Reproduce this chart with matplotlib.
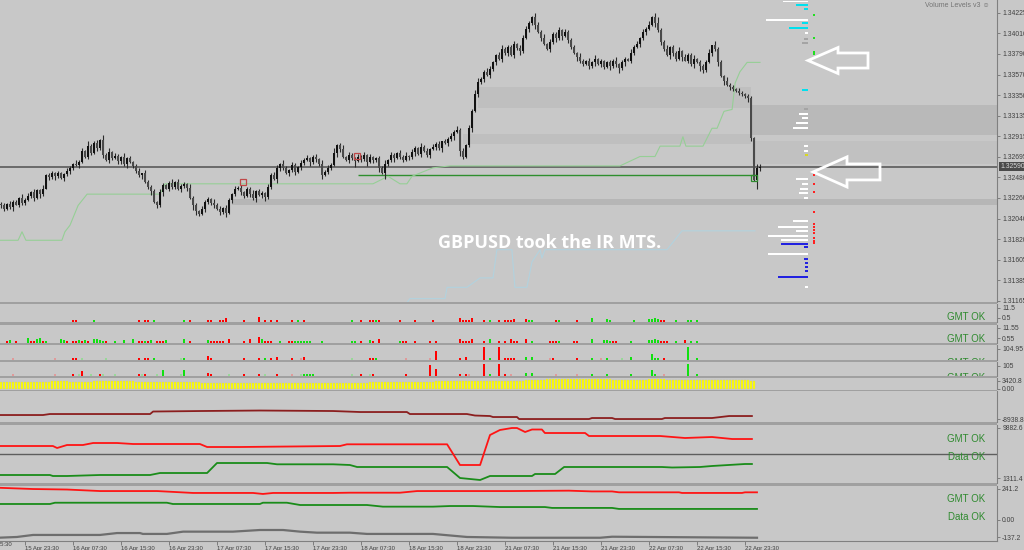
import numpy as np
import matplotlib
matplotlib.use('Agg')
import matplotlib.pyplot as plt
from matplotlib.patches import Polygon
from matplotlib.transforms import blended_transform_factory

plt.rcParams['font.family'] = ['Liberation Sans', 'DejaVu Sans']

W, H = 1024, 550
BG = '#c8c8c8'
SEP = '#a0a0a0'
XLIM = (-1 / 3, 332)
LBL = 4.9      # axis label size

# ---- main chart: GBPUSD M30 closes, in pips above 1.3000 ----
close_pips = [
    218, 214, 220, 216, 222, 219, 226, 221, 224, 228, 232, 226, 234, 230, 236,
    250, 248, 253, 249, 252, 247, 251, 255, 258, 262, 261, 264,
    276, 270, 281, 274, 284, 279, 288, 272, 266, 275, 268, 271, 265,
    270, 262, 268, 264, 260, 255, 250, 252, 243, 238, 233, 222, 218,
    232, 240, 236, 242, 238, 243, 235, 239, 241, 237, 226, 218, 212, 209,
    214, 222, 225, 221, 219, 214, 211, 215, 210, 224, 230, 235, 237,
    232, 228, 236, 230, 226, 233, 229, 231, 227, 238, 250, 246, 258, 262,
    258, 252, 256, 261, 254, 259, 263, 266, 268, 264, 270, 267,
    262, 250, 254, 258, 261, 274, 282, 278, 270, 266, 272, 268,
    265, 270, 267, 272, 264, 269, 266, 268, 258, 252, 262,
    266, 272, 268, 274, 270, 266, 271, 269, 275, 279, 273, 280, 276, 272, 278,
    280, 283, 279, 286, 284, 289, 292, 296, 298, 276, 270, 282,
    300, 318, 336, 349, 352, 360, 357, 363, 370, 378, 374, 384, 380, 386,
    378, 390, 385, 382, 396, 405, 412, 418, 410, 402, 396, 390, 384,
    392, 400, 396, 404, 398, 402, 394, 386, 380, 376, 372,
    368, 372, 366, 370, 374, 368, 371, 365, 370, 366, 372, 368, 364, 370, 374,
    372, 380, 386, 390, 396, 402, 406, 410, 418, 412, 404,
    392, 384, 378, 386, 380, 374, 382, 376, 372, 378, 368, 374, 370,
    366, 362, 370, 380, 388, 384, 370, 356, 350, 346,
    344, 342, 340, 338, 336, 334, 332, 290, 245, 258, 259,
]
first_open = 220
up_wick = ("2313221423" "1322413213" "2132142315" "2341524132" "1423123142"
           "2313212413" "2214231322" "1423132142" "3122413213" "2431421321"
           "3241231423" "2512413213" "2314213241" "3213241321" "4231324132"
           "3242313254" "3243213423" "2314342153" "2413224132" "2314213241"
           "3213241321" "4231324156" "3241324132" "2413234152" "3142213212"
           "2143")
lo_wick = ("3212413221" "2314213242" "1324213123" "2132413213" "3241232413"
           "4132413221" "3241542132" "2413241321" "3213241342" "2143213241"
           "3214232413" "2143213261" "3241324162" "2413213241" "3124132413"
           "2415322413" "2314231423" "1324213241" "3213242413" "2143213241"
           "3214235241" "3214232142" "3214321413" "2415321324" "2413213224"
           "3193")

main_ticks = [1.34225, 1.34010, 1.33790, 1.33570, 1.33350, 1.33135, 1.32915,
              1.32695, 1.32480, 1.32260, 1.32040, 1.31820, 1.31605, 1.31385, 1.31165]
current_price = 1.32590

# zones (bar index from/to, pips low/high, colour)
zone_x0 = [159, 154, 250.3, 250.3, 77]
zone_x1 = [250, 250, 332, 332, 332]
zone_lo = [321.6, 283.3, 292.9, 262.1, 218.5]
zone_hi = [343.9, 294.0, 324.7, 286.5, 224.9]
zone_col = ['#bfbfbf', '#bfbfbf', '#b9b9b9', '#c1c1c1', '#b6b6b6']

# light green stepped level
lg_idx = [-1, 5.7, 7, 8.3, 20.3, 21.3, 23, 25.7, 28.7, 53, 54.7, 124, 129, 133, 135.3, 137,
          144, 149.7, 206.3, 213, 218, 219.7, 226.3, 227.3, 228.3, 234, 237, 238.7, 241,
          243.7, 244.7, 246.3, 248.7, 253]
lg_pips = [181, 181, 190, 181, 181, 190, 197, 218, 230, 230, 241, 241, 249, 241, 241, 249,
           258, 260, 260, 270, 270, 281, 281, 291, 281, 281, 300, 300, 318,
           320, 348, 360, 370, 370]
# faint cyan level
cy_idx = [134.7, 136.3, 148, 148.7, 155.3, 159.7, 164, 165.3, 170.3, 171.3, 175.3, 177,
          179.7, 180.3, 181.3, 222, 227, 251.3]
cy_pips = [112, 119, 119, 131, 131, 141, 141, 171, 171, 131, 131, 158,
           171, 162, 171, 171, 191, 191]
# green level line
green_lvl_pips = 250.4
green_lvl_x = (119, 252)

# signal boxes
sig_idx = [80.7, 118.7, 251]
sig_pips = [243, 270.5, 247]
sig_col = ['#c04848', '#c04848', '#2e8b2e']

# volume levels profile (pips, length in bars, colour)
vp_pips = [434.5, 431, 426.7, 415, 411.9, 406.5, 401.2, 394.9, 390.6, 340.7, 320.5, 315.2,
           310.9, 305.6, 300.3, 281.2, 275.9, 271.6, 246.1, 240.8, 235.5, 231.2, 225.9,
           201.5, 195.1, 190.9, 185.5, 181.3, 177.0, 173.9, 166.4, 161.1, 156.9, 152.6,
           148.4, 142.0, 131.4]
vp_len = [8.3, 4, 1.3, 14, 2, 6.3, 1, 1.3, 2, 2, 1.3, 3,
          2, 4, 5, 1.3, 1.3, 1, 4, 2, 2.7, 3, 1.3,
          5, 10, 4, 13.3, 9, 9, 1.3, 13.3, 1.3, 1, 1,
          1, 10, 1]
vp_col = ['w', 'c', 'c', 'w', 'c', 'c', 'w', 'k', 'k', 'c', 'k', 'w',
          'w', 'w', 'w', 'w', 'w', 'y', 'w', 'w', 'w', 'w', 'w',
          'w', 'w', 'w', 'w', 'w', 'b', 'b', 'w', 'b', 'b', 'b',
          'b', 'b', 'w']
vp_anchor = 269
dot_pips = [420.4, 395.9, 381.1, 378.9, 250.4, 240.8, 232.3, 211.1, 198.3, 195.1,
            191.9, 188.7, 183.4, 180.2, 178.1]
dot_col = ['g', 'g', 'g', 'g', 'r', 'r', 'r', 'r', 'r', 'r', 'r', 'r', 'r', 'r', 'r']
dot_idx = 271

# outline arrows: tip, head start, tail (bar idx) and centre / half sizes (pips)
arr_tip = [269, 270.7]
arr_head = [279, 282]
arr_tail = [289, 293]
arr_mid = [372, 253.6]
arr_head_half = [13.8, 16]
arr_shaft_half = [8, 8.5]

# ---- histogram sub-windows (bar idx, value, colour) ----
p2 = [(24, 2, 'r'), (25, 2, 'r'), (31, 2, 'g'), (46, 2, 'r'), (48, 2, 'r'), (49, 2, 'r'),
      (51, 2, 'g'), (61, 2, 'g'), (63, 2, 'r'), (69, 2, 'r'), (70, 2, 'r'), (73, 2, 'r'),
      (74, 2, 'r'), (75, 4, 'r'), (81, 2, 'r'), (86, 5, 'r'), (88, 2, 'r'), (90, 2, 'r'),
      (92, 2, 'r'), (97, 2, 'r'), (99, 2, 'g'), (101, 2, 'r'), (117, 2, 'g'), (120, 2, 'r'),
      (123, 2, 'r'), (124, 2, 'r'), (125, 2, 'g'), (126, 2, 'r'), (133, 2, 'r'), (138, 2, 'r'),
      (144, 2, 'r'), (153, 4, 'r'), (154, 2, 'r'), (155, 2, 'r'), (156, 2, 'r'), (157, 4, 'r'),
      (161, 2, 'r'), (163, 2, 'g'), (166, 2, 'r'), (168, 2, 'r'), (169, 2, 'r'), (170, 2, 'r'),
      (171, 3, 'r'), (175, 3, 'r'), (176, 2, 'g'), (177, 2, 'g'), (185, 2, 'r'), (186, 2, 'g'),
      (192, 2, 'r'), (197, 4, 'g'), (202, 3, 'g'), (203, 2, 'g'), (211, 2, 'g'), (216, 3, 'g'),
      (217, 3, 'g'), (218, 4, 'g'), (219, 3, 'g'), (220, 2, 'r'), (221, 2, 'r'), (225, 2, 'g'),
      (229, 2, 'g'), (230, 2, 'g'), (232, 2, 'g')]
p3 = [(2, 2.2, 'r'), (3, 3.3, 'g'), (5, 2.2, 'r'), (9, 5.5, 'g'), (10, 2.2, 'r'), (11, 2.2, 'r'),
      (12, 4.4, 'g'), (13, 5.5, 'g'), (14, 2.2, 'r'), (15, 2.2, 'g'), (20, 4.4, 'g'), (21, 3.3, 'g'),
      (22, 2.2, 'r'), (24, 2.2, 'r'), (25, 2.2, 'r'), (26, 3.3, 'g'), (27, 2.2, 'r'), (28, 3.3, 'g'),
      (29, 2.2, 'r'), (31, 4.4, 'g'), (32, 4.4, 'g'), (33, 3.3, 'g'), (34, 2.2, 'g'), (35, 2.2, 'r'),
      (38, 2.2, 'g'), (41, 3.3, 'g'), (44, 4.4, 'g'), (46, 2.2, 'r'), (47, 2.2, 'r'), (48, 2.2, 'g'),
      (49, 2.2, 'r'), (50, 3.3, 'g'), (52, 2.2, 'r'), (53, 2.2, 'r'), (54, 2.2, 'r'), (55, 3.3, 'g'),
      (61, 4.4, 'g'), (63, 2.2, 'r'), (69, 3.3, 'g'), (70, 2.2, 'r'), (71, 2.2, 'r'), (72, 2.2, 'r'),
      (73, 2.2, 'r'), (74, 2.2, 'r'), (76, 4.4, 'r'), (81, 2.2, 'r'), (83, 4.4, 'r'), (86, 6.6, 'r'),
      (87, 4.4, 'g'), (88, 2.2, 'r'), (89, 2.2, 'r'), (90, 2.2, 'r'), (93, 2.2, 'g'), (96, 2.2, 'r'),
      (97, 2.2, 'r'), (98, 2.2, 'g'), (99, 2.2, 'g'), (100, 2.2, 'g'), (101, 2.2, 'g'), (102, 2.2, 'g'),
      (103, 2.2, 'g'), (107, 2.2, 'g'), (117, 2.2, 'g'), (118, 2.2, 'g'), (120, 2.2, 'r'),
      (123, 3.3, 'g'), (124, 2.2, 'r'), (126, 4.4, 'r'), (133, 2.2, 'g'), (134, 2.2, 'r'),
      (135, 2.2, 'r'), (138, 2.2, 'r'), (143, 2.2, 'r'), (145, 2.2, 'r'), (153, 4.4, 'r'),
      (154, 2.2, 'r'), (155, 2.2, 'r'), (156, 2.2, 'r'), (157, 4.4, 'r'), (161, 2.2, 'r'),
      (163, 4.4, 'g'), (166, 2.2, 'r'), (168, 2.2, 'r'), (170, 4.4, 'r'), (171, 2.2, 'r'),
      (172, 2.2, 'r'), (175, 4.4, 'r'), (177, 2.2, 'g'), (183, 2.2, 'r'), (184, 2.2, 'r'),
      (185, 2.2, 'r'), (186, 2.2, 'g'), (191, 2.2, 'r'), (192, 2.2, 'r'), (197, 4.4, 'g'),
      (201, 3.3, 'g'), (202, 3.3, 'g'), (203, 2.2, 'g'), (204, 2.2, 'r'), (205, 2.2, 'r'),
      (210, 2.2, 'g'), (216, 3.3, 'g'), (217, 3.3, 'g'), (218, 4.4, 'g'), (219, 3.3, 'g'),
      (220, 2.2, 'r'), (221, 2.2, 'r'), (222, 2.2, 'r'), (225, 2.2, 'g'), (228, 3.3, 'r'),
      (230, 2.2, 'g'), (232, 2.2, 'g')]
p4 = [(4, 19, 'p'), (18, 19, 'p'), (24, 19, 'r'), (25, 19, 'r'), (27, 19, 'l'), (35, 19, 'l'),
      (46, 19, 'r'), (48, 19, 'r'), (49, 19, 'r'), (51, 19, 'g'), (60, 19, 'l'), (61, 19, 'g'),
      (69, 37, 'r'), (70, 19, 'r'), (81, 19, 'r'), (86, 19, 'r'), (88, 19, 'g'), (90, 19, 'r'),
      (92, 28, 'r'), (97, 19, 'r'), (100, 19, 'p'), (101, 28, 'r'), (117, 19, 'l'), (123, 19, 'r'),
      (124, 19, 'r'), (125, 19, 'g'), (135, 19, 'p'), (143, 19, 'p'), (145, 84, 'r'), (153, 19, 'r'),
      (155, 28, 'r'), (161, 121, 'r'), (163, 19, 'g'), (166, 121, 'r'), (168, 19, 'r'),
      (169, 19, 'r'), (170, 19, 'r'), (171, 19, 'r'), (175, 28, 'g'), (177, 28, 'g'),
      (183, 19, 'p'), (184, 19, 'r'), (192, 19, 'r'), (197, 19, 'g'), (200, 19, 'p'),
      (202, 19, 'g'), (207, 19, 'l'), (210, 28, 'g'), (217, 56, 'g'), (218, 19, 'g'),
      (219, 19, 'g'), (221, 19, 'r'), (229, 121, 'g'), (232, 19, 'g')]
p5 = [(4, 20, 'p'), (18, 20, 'p'), (24, 20, 'r'), (26, 20, 'l'), (27, 50, 'r'), (30, 20, 'l'),
      (33, 20, 'r'), (34, 20, 'l'), (38, 20, 'l'), (46, 20, 'r'), (47, 20, 'l'), (48, 20, 'r'),
      (52, 20, 'l'), (54, 60, 'g'), (60, 20, 'l'), (61, 60, 'g'), (69, 30, 'r'), (70, 20, 'r'),
      (76, 20, 'l'), (81, 20, 'r'), (86, 20, 'r'), (88, 20, 'l'), (92, 20, 'r'), (97, 20, 'p'),
      (100, 20, 'l'), (101, 20, 'g'), (102, 20, 'g'), (103, 20, 'g'), (104, 20, 'g'), (117, 20, 'l'),
      (120, 20, 'r'), (123, 20, 'l'), (124, 20, 'r'), (135, 20, 'r'), (143, 110, 'r'),
      (145, 70, 'r'), (153, 20, 'r'), (155, 20, 'r'), (156, 20, 'p'), (161, 120, 'r'),
      (163, 20, 'g'), (166, 120, 'r'), (168, 20, 'r'), (170, 20, 'p'), (175, 30, 'g'),
      (177, 30, 'g'), (185, 20, 'p'), (192, 20, 'p'), (197, 20, 'g'), (202, 20, 'g'),
      (210, 20, 'g'), (217, 60, 'g'), (218, 20, 'g'), (221, 20, 'p'), (229, 120, 'g'),
      (232, 20, 'g')]
hist_colors = {'r': '#ff0000', 'g': '#10e010', 'p': '#e09a9a', 'l': '#98d898'}

# volume (plateaus: number of bars, value)
vol_runs = [17, 6, 8, 14, 9, 13, 56, 22, 26, 4, 7, 22, 12, 6, 12, 16, 2]
vol_vals = [3120, 3420, 3120, 3550, 2990, 2860, 2570, 2860, 3290, 3290, 3850, 4280,
            3850, 4400, 3980, 3720, 3420]

# line sub-windows
dr_idx = [-1, 14, 16.3, 49.7, 50.7, 66.3, 86.3, 110.7, 119.7, 135.3, 136.3, 155.3, 158, 163,
          164, 172, 172.7, 196, 197, 203.7, 204.7, 220.3, 221.3, 237, 242.7, 250.3]
dr_val = [-8740, -8740, -8690, -8690, -8565, -8540, -8515, -8540, -8590, -8590, -8690, -8690,
          -8765, -8790, -8840, -8840, -8940, -8940, -8890, -8890, -8940, -8940, -8890, -8890,
          -8790, -8790]

r8_idx = [-1, 17.3, 18.7, 22, 27.3, 30.7, 38.7, 44, 66.3, 68.7, 79.7, 113, 115.3, 148.7, 153,
          159.7, 163, 166.3, 170.3, 172, 174.7, 177, 180.3, 181.3, 194.7, 196, 209.3, 219.7,
          228, 237, 243.7, 250.3]
r8_val = [6796, 6796, 6453, 6967, 6967, 7310, 7310, 7139, 7139, 6625, 6625, 6796, 7087, 7087,
          3540, 3540, 8681, 9539, 9881, 9881, 9196, 9624, 9624, 9024, 9024, 8510, 8510, 8510,
          8167, 8339, 7996, 7996]
g8_idx = [-1, 16.3, 17.3, 22, 33, 49.7, 53, 68.7, 72, 77.3, 88.7, 92, 110.7, 116.3, 118.7,
          148.7, 153, 159.7, 163, 170.3, 177, 178, 184.7, 187.7, 196, 214.7, 220.3, 223.7,
          233, 237, 248, 250.3]
g8_val = [1826, 1826, 1654, 1654, 1826, 1826, 2168, 2168, 3882, 3882, 3882, 3659, 3659, 3540,
          3197, 3197, 1311, 969, 1654, 1654, 1654, 1997, 1997, 3197, 3197, 3197, 3197, 3111,
          3197, 3368, 3711, 3711]
mid8 = 5425

r9_idx = [-1, 10.7, 22, 33, 52, 64, 84, 87.3, 90.7, 110.7, 116.3, 133, 138.7, 170.3, 189.3,
          197, 203.7, 206, 226, 227, 247, 248, 252]
r9_val = [251, 241, 237, 225, 225, 210, 210, 202, 210, 210, 212, 212, 225, 225, 228, 222, 222,
          215, 215, 210, 210, 215, 215]
g9_idx = [-1, 16.3, 18, 55.3, 57.3, 86.3, 87.3, 95.3, 99.7, 122, 127.3, 144, 149.7, 157.3,
          166.3, 181.3, 183.7, 203.7, 206, 252]
g9_val = [123, 123, 133, 133, 123, 123, 133, 133, 115, 115, 102, 102, 107, 107, 99, 99, 92, 92,
          84, 84]
k9_idx = [-1, 5.3, 10.7, 33, 38.7, 46.3, 47.3, 55.3, 60.7, 77.3, 86.3, 94, 99.7, 105.3, 116.3,
          122, 144, 155.3, 170.3, 199.7, 203.7, 252]
k9_val = [-143, -137, -121, -121, -106, -106, -113, -113, -95, -95, -82, -82, -95, -103, -103,
          -113, -113, -137, -143, -143, -135, -143]

time_idx = [8, 24, 40, 56, 72, 88, 104, 120, 136, 152, 168, 184, 200, 216, 232, 248]
time_lbl = ['15 Apr 23:30', '16 Apr 07:30', '16 Apr 15:30', '16 Apr 23:30', '17 Apr 07:30',
            '17 Apr 15:30', '17 Apr 23:30', '18 Apr 07:30', '18 Apr 15:30', '18 Apr 23:30',
            '21 Apr 07:30', '21 Apr 15:30', '21 Apr 23:30', '22 Apr 07:30', '22 Apr 15:30',
            '22 Apr 23:30']


def pr(p):
    return 1.3 + np.asarray(p, dtype=float) / 1e4


fig = plt.figure(figsize=(W / 100, H / 100), dpi=100, facecolor=BG)


def panel(top, bot):
    ax = fig.add_axes([0, 1 - bot / H, 997 / W, (bot - top) / H])
    ax.set_facecolor(BG)
    ax.set_xlim(XLIM)
    for s in ax.spines.values():
        s.set_visible(False)
    ax.spines['right'].set_visible(True)
    ax.spines['right'].set_color('#808080')
    ax.spines['right'].set_linewidth(0.8)
    ax.tick_params(axis='x', bottom=False, labelbottom=False)
    ax.yaxis.tick_right()
    ax.tick_params(axis='y', right=True, length=2.5, width=0.6, color='#707070',
                   labelsize=LBL, labelcolor='#404040', pad=1.2)
    return ax


def ok_text(ax, y, txt):
    ax.text(0.988, y, txt, transform=ax.transAxes, ha='right', va='center',
            fontsize=7, color='#2f8a2f', clip_on=True)


# ---------- main window ----------
ax = panel(0, 302)
ax.set_ylim(1.31154, 1.34363)
for x0, x1, lo, hi, c in zip(zone_x0, zone_x1, zone_lo, zone_hi, zone_col):
    ax.fill_between([x0, x1], pr(lo), pr(hi), color=c, lw=0, zorder=0.5)

c = pr(close_pips)
o = np.r_[pr(first_open), c[:-1]]
idx = np.arange(len(c))
hi = np.maximum(o, c) + np.array([int(d) for d in up_wick]) / 1e4
lo = np.minimum(o, c) - np.array([int(d) for d in lo_wick]) / 1e4
ax.vlines(idx, lo, hi, color='#2a2a2a', lw=0.8, zorder=3)
body = np.maximum(np.abs(c - o), 0.00003)
bull = c >= o
ax.bar(idx[bull], body[bull], bottom=o[bull], width=0.62, color='#111111', lw=0, zorder=4)
ax.bar(idx[~bull], body[~bull], bottom=c[~bull], width=0.62, color='#4a4a4a', lw=0, zorder=4)

ax.axhline(current_price, color='#5a5a5a', lw=1.2, zorder=2)
ax.hlines(pr(green_lvl_pips), *green_lvl_x, color='#2f8f2f', lw=1, zorder=2)
ax.plot(lg_idx, pr(lg_pips), color='#96cf96', lw=0.8, zorder=2)
ax.plot(cy_idx, pr(cy_pips), color='#b2d2de', lw=0.8, zorder=2)
for x, p, col in zip(sig_idx, sig_pips, sig_col):
    ax.plot(x, pr(p), marker='s', ms=5, mfc='none', mec=col, mew=0.9, zorder=5)

vp_map = {'w': '#ffffff', 'c': '#00e0ee', 'k': '#a4a4a4', 'b': '#2222e0', 'y': '#d8d820'}
vp_len = np.array(vp_len)
ax.barh(pr(vp_pips), vp_len, left=vp_anchor - vp_len, height=0.00016,
        color=[vp_map[k] for k in vp_col], lw=0, zorder=3)
ax.scatter([dot_idx] * len(dot_pips), pr(dot_pips), s=3, marker='s',
           c=['#20e020' if k == 'g' else '#ff2020' for k in dot_col], lw=0, zorder=3)

for tip, hx, tail, mid, hh, sh in zip(arr_tip, arr_head, arr_tail, arr_mid,
                                      arr_head_half, arr_shaft_half):
    pts = [(tip, pr(mid)), (hx, pr(mid + hh)), (hx, pr(mid + sh)), (tail, pr(mid + sh)),
           (tail, pr(mid - sh)), (hx, pr(mid - sh)), (hx, pr(mid - hh))]
    ax.add_patch(Polygon(pts, closed=True, fill=False, ec='white', lw=2, zorder=6))

ax.text(183, pr(178), 'GBPUSD took the IR MTS.', ha='center', va='center',
        fontsize=13, color='white', fontfamily='Open Sans', fontweight='bold', zorder=7)
ax.text(0.993, 0.995, 'Volume Levels v3 \u263a', transform=ax.transAxes, ha='right',
        va='top', fontsize=5, color='#747474')
ax.set_yticks(main_ticks)
ax.set_yticklabels(['%.5f' % t for t in main_ticks])
tr = blended_transform_factory(ax.transAxes, ax.transData)
ax.text(1.003, current_price, '%.5f' % current_price, transform=tr, ha='left', va='center',
        fontsize=LBL, color='#d8d8d8', clip_on=False,
        bbox=dict(boxstyle='square,pad=0.15', fc='#4a4a4a', ec='none'))

# ---------- histogram windows ----------
for (top, bot, ylim, ticks, lbls, data, oky) in [
        (304, 322, (-3.7, 15.2), [11.5, 0.5], ['11.5', '0.5'], p2, 0.25),
        (325, 343, (-4.2, 14.7), [11.55, 0.55], ['11.55', '0.55'], p3, 0.22),
        (345, 360, (0, 140), [104.95], ['104.95'], p4, -0.18),
        (362, 376, (0, 140), [105], ['105'], p5, -0.14)]:
    a = panel(top, bot)
    a.set_ylim(ylim)
    xs = [d[0] for d in data]
    hs = [d[1] for d in data]
    cs = [hist_colors[d[2]] for d in data]
    a.bar(xs, hs, bottom=ylim[0], width=0.75, color=cs, lw=0)
    a.set_yticks(ticks)
    a.set_yticklabels(lbls)
    ok_text(a, oky, 'GMT OK')

# ---------- volume window ----------
a6 = panel(378, 389.5)
a6.set_ylim(-214, 4703)
vol = np.repeat(vol_vals, vol_runs)
a6.bar(np.arange(len(vol)), vol, width=0.8, color='#ffff00', edgecolor='#c8c870', lw=0.2)
a6.set_yticks([3420.8, 0])
a6.set_yticklabels(['3420.8', '0.00'])

# ---------- line windows ----------
a7 = panel(390.5, 422)
a7.set_ylim(-9088.8, -7513.8)
a7.plot(dr_idx, dr_val, color='#8b1e1e', lw=1.3)
a7.set_yticks([-8938.8])
a7.set_yticklabels(['-8938.8'])

a8 = panel(425, 483)
a8.set_ylim(454.4, 10396.8)
a8.axhline(mid8, color='#5e5e5e', lw=1)
a8.plot(r8_idx, r8_val, color='#ff1414', lw=1.3)
a8.plot(g8_idx, g8_val, color='#1a8c1a', lw=1.3)
a8.set_yticks([9882.6, 1311.4])
a8.set_yticklabels(['9882.6', '1311.4'])
ok_text(a8, 0.759, 'GMT OK')
ok_text(a8, 0.448, 'Data OK')

a9 = panel(486, 541)
a9.set_ylim(-168.7, 264.8)
a9.plot(r9_idx, r9_val, color='#ff1414', lw=1.3)
a9.plot(g9_idx, g9_val, color='#1a8c1a', lw=1.3)
a9.plot(k9_idx, k9_val, color='#6e6e6e', lw=1.6)
a9.set_yticks([241.2, 0, -137.2])
a9.set_yticklabels(['241.2', '0.00', '-137.2'])
ok_text(a9, 0.755, 'GMT OK')
ok_text(a9, 0.445, 'Data OK')
a9.spines['bottom'].set_visible(True)
a9.spines['bottom'].set_color('#808080')
a9.spines['bottom'].set_linewidth(0.8)
a9.set_xticks(time_idx)
a9.set_xticklabels(time_lbl, ha='left')
a9.tick_params(axis='x', bottom=True, labelbottom=True, length=3, width=0.6, color='#707070',
               labelsize=4.3, labelcolor='#404040', pad=0.8)
a9.text(-7.7, -0.02, '15 Apr 15:30', transform=blended_transform_factory(a9.transData, a9.transAxes),
        ha='left', va='top', fontsize=4.3, color='#404040', clip_on=False)

# window separators
for t, b in [(302, 304), (322, 325), (343, 345), (360, 362), (376, 378), (389.5, 390.5),
             (422, 425), (483, 486)]:
    fig.patches.append(plt.Rectangle((0, 1 - b / H), 997 / W, (b - t) / H,
                                     transform=fig.transFigure, fc=SEP, ec='none', zorder=10))

fig.savefig('out.png', dpi=100, facecolor=BG)
